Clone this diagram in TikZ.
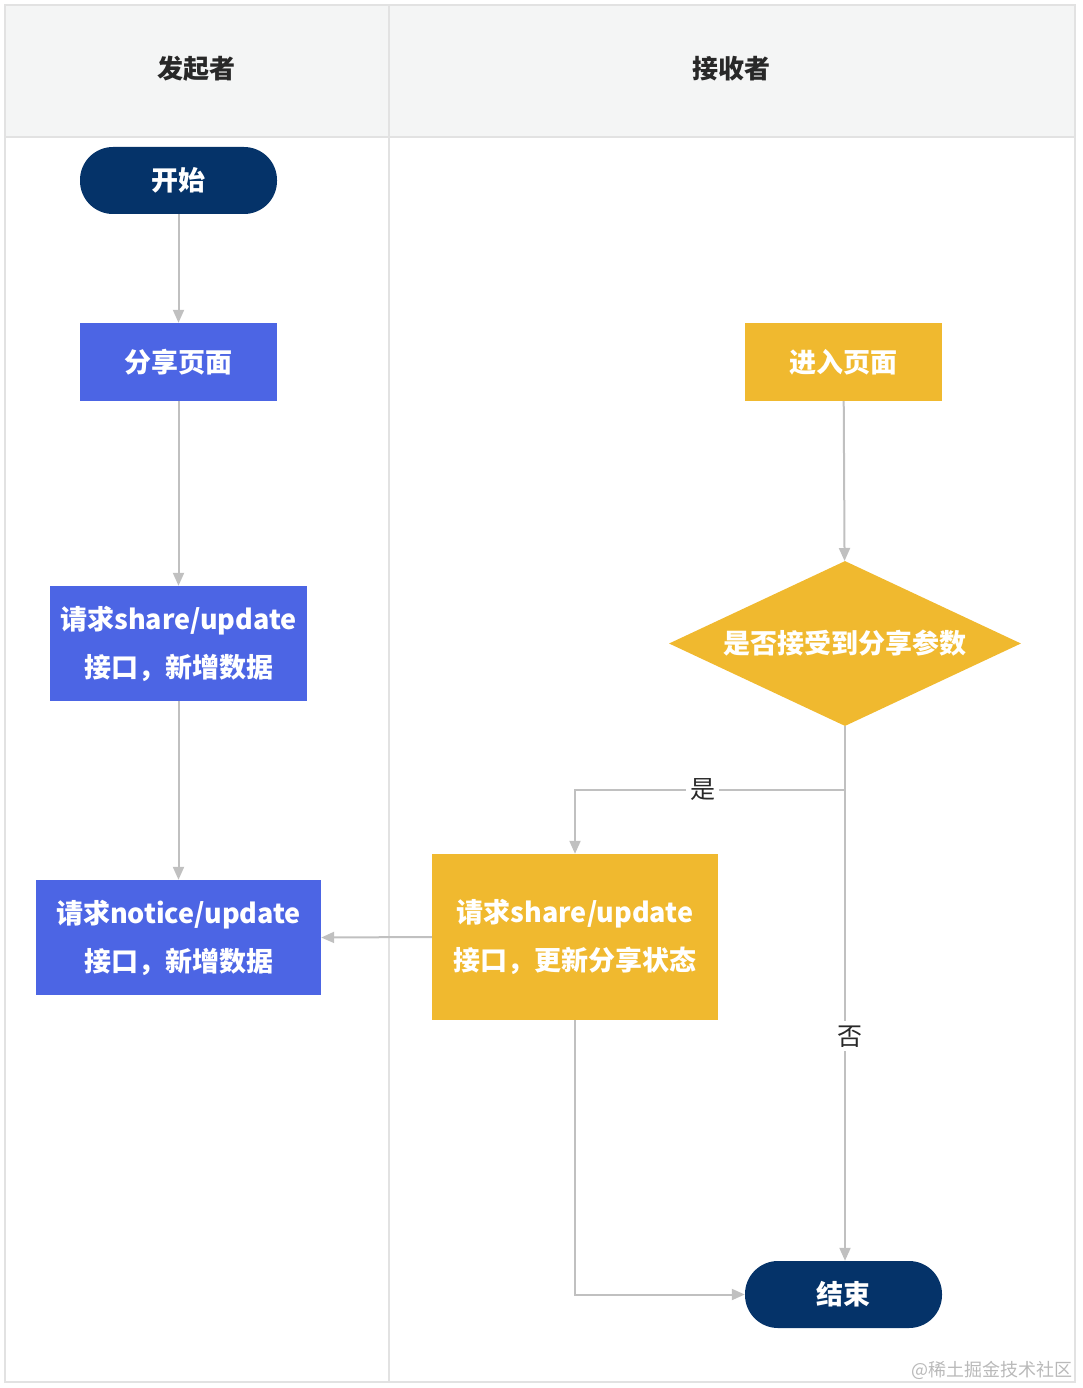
\documentclass[tikz,border=0pt]{standalone}
\usepackage{fontspec}
\setmainfont{Noto Sans CJK SC}
\usetikzlibrary{
    arrows.meta,
    shapes.geometric,
}

\definecolor{navy}{RGB}{5,51,105}
\definecolor{flowblue}{RGB}{76,101,228}
\definecolor{flowyellow}{RGB}{240,185,47}
\definecolor{lanegray}{RGB}{226,226,226}
\definecolor{headfill}{RGB}{244,245,245}
\definecolor{linkgray}{RGB}{192,192,192}
\definecolor{textdark}{RGB}{40,40,40}

\begin{document}
\begin{tikzpicture}[
        x=1pt, y=-1pt,
        lane/.style={draw=lanegray, line width=1.5pt},
        lanehead/.style={text=textdark, font=\fontsize{26}{30}\selectfont\bfseries},
        terminal/.style={rectangle, rounded corners=33pt, fill=navy, text=white, minimum width=197pt, minimum height=67pt, font=\fontsize{27}{30}\selectfont\bfseries},
        sharebox/.style={rectangle, fill=flowblue, text=white, align=center, inner sep=0pt, font=\fontsize{27}{48}\selectfont\bfseries},
        recvbox/.style={rectangle, fill=flowyellow, text=white, align=center, inner sep=0pt, font=\fontsize{27}{48}\selectfont\bfseries},
        check/.style={diamond, fill=flowyellow, text=white, inner sep=0pt, aspect=2.13, minimum width=352pt, minimum height=165pt, font=\fontsize{27}{30}\selectfont\bfseries},
        link/.style={draw=linkgray, line width=2pt, -{Triangle[length=13pt, width=11pt]}},
        choice/.style={fill=white, text=textdark, inner sep=4pt, font=\fontsize{25}{28}\selectfont},
        ]
        \useasboundingbox (0,0) rectangle (1083,1388);
        % lanes
        \fill[headfill] (5,5) rectangle (1075,137);
        \draw[lane] (5,5) rectangle (1075,1382);
        \draw[lane] (5,137) -- (1075,137);
        \draw[lane] (389,5) -- (389,1382);
        \node[lanehead] (SENDER) at (196,69) {发起者};
        \node[lanehead] (RECEIVER) at (731,69) {接收者};
        % sender side
        \node[terminal] (START) at (178.5,180.5) {开始};
        \node[sharebox, minimum width=197pt, minimum height=78pt] (SHARE) at (178.5,362) {分享页面};
        \node[sharebox, minimum width=257pt, minimum height=115pt] (ADD) at (178.5,643.5) {请求share/update\\接口，新增数据};
        \node[sharebox, minimum width=285pt, minimum height=115pt] (NOTICE) at (178.5,937.5) {请求notice/update\\接口，新增数据};
        % receiver side
        \node[recvbox, minimum width=197pt, minimum height=78pt] (ENTER) at (843.5,362) {进入页面};
        \node[check] (PARAM) at (845,643.5) {是否接受到分享参数};
        \node[recvbox, minimum width=286pt, minimum height=166pt] (UPDATE) at (575,937) {请求share/update\\接口，更新分享状态};
        \node[terminal] (END) at (843.5,1294.5) {结束};
        \draw[link] (START) -- (SHARE);
        \draw[link] (SHARE) -- (ADD);
        \draw[link] (ADD) -- (NOTICE);
        \draw[link] (ENTER) -- (PARAM);
        \draw[link] (PARAM.south) -- (845,790) -- node[choice, pos=0.526] {是} (UPDATE.north |- 0,790) -- (UPDATE.north);
        \draw[link] (PARAM.south) -- node[choice, pos=0.58, xshift=5pt] {否} (PARAM.south |- END.north);
        \draw[link] (UPDATE.west) -- (NOTICE.east);
        \draw[link] (UPDATE.south) |- (END.west);
        \node[anchor=east, text=gray!55, font=\fontsize{18}{20}\selectfont] (MARK) at (1076,1370) {@稀土掘金技术社区};
    \end{tikzpicture}
\end{document}
